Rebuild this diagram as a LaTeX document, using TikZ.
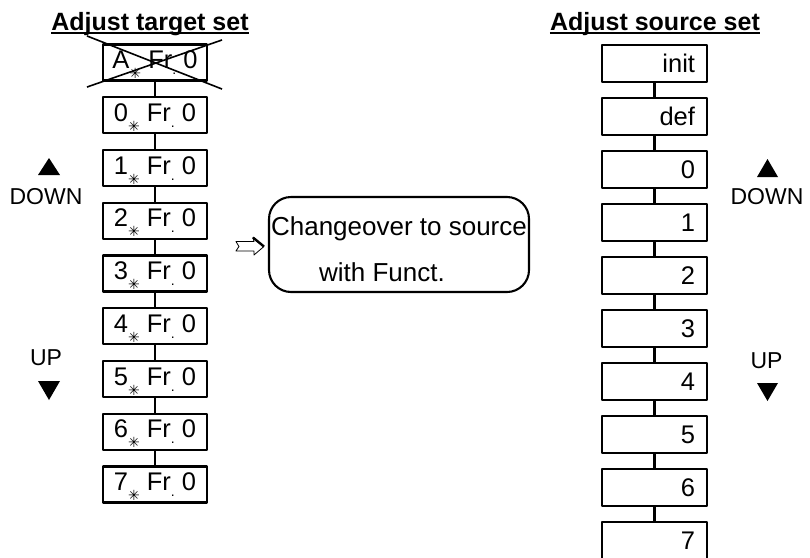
\documentclass[tikz,border=0pt]{standalone}
\usepackage{fontspec}
\setmainfont{Liberation Sans}
\newfontfamily\symfont{DejaVu Sans}
\newcommand{\lowstar}{\smash{\raisebox{-10pt}{\fontsize{14}{14}\selectfont\symfont ✳}}}
\newcommand{\lowdot}{\smash{\raisebox{-6pt}{\fontsize{14}{14}\selectfont .}}}
\tikzset{
	box/.style={draw, line width=2.1pt, minimum width=104pt, minimum height=36pt, inner sep=0pt,
		text height=18pt, text depth=6pt, font=\fontsize{25.5}{30}\selectfont},
	srcbox/.style={draw, line width=2.1pt, minimum width=105pt, minimum height=37pt, inner sep=0pt,
		text width=81pt, align=right, font=\fontsize{25.5}{30}\selectfont},
	link/.style={line width=2.1pt},
	title/.style={anchor=base, inner sep=0pt, font=\fontsize{25}{30}\selectfont\bfseries},
	updown/.style={font=\fontsize{23}{27}\selectfont, inner sep=0pt},
	bubble/.style={draw, rounded corners=22pt, line width=2.1pt, minimum width=260pt, minimum height=95pt,
		inner sep=0pt, align=center, font=\fontsize{26}{46}\selectfont}
}
\begin{document}
\begin{tikzpicture}[x=1pt, y=-1pt, line join=round]
	\useasboundingbox (0,0) rectangle (810,557);
	% titles
	\node[title] (ttlT) at (150,30) {Adjust target set};
	\node[title] (ttlS) at (655,30) {Adjust source set};
	\draw[line width=1.6pt] ([yshift=-3pt]ttlT.base west) -- ([yshift=-3pt]ttlT.base east);
	\draw[line width=1.6pt] ([yshift=-3pt]ttlS.base west) -- ([yshift=-3pt]ttlS.base east);
	% target column
	\foreach \lab [count=\i from 0] in {A,0,1,2,3,4,5,6,7} {
		\node[box] (t\i) at (155,{62.5+52.75*\i}) {\lab\lowstar\ Fr\lowdot\ 0};
	}
	\foreach \i in {0,...,7} {
		\pgfmathtruncatemacro\j{\i+1}
		\draw[link] (t\i) -- (t\j);
	}
	\draw[line width=1.6pt] ([shift={(-15,-7.5)}]t0.north west) -- ([shift={(14,7.5)}]t0.south east);
	\draw[line width=1.6pt] ([shift={(14,-3.5)}]t0.north east) -- ([shift={(-15,5.5)}]t0.south west);
	% source column
	\foreach \lab [count=\i from 0] in {init,def,0,1,2,3,4,5,6,7} {
		\node[srcbox] (s\i) at (654.5,{63.5+53*\i}) {\lab};
	}
	\foreach \i in {0,...,8} {
		\pgfmathtruncatemacro\j{\i+1}
		\draw[link] (s\i) -- (s\j);
	}
	% changeover
	\node[bubble] (chg) at (399,244.5) {\rule{0pt}{29pt}Changeover to source\\with Funct.\hspace*{34pt}};
	\begin{scope}[shift={(chg.west)}]
		\draw[line width=0.8pt, fill=white] (-32,-3) -- (-14,-3) -- (-15,-7) -- (-4,2) -- (-14,10.5) -- (-14,6.5) -- (-32,6.5) -- (-29,2) -- cycle;
		\draw[line width=2.4pt] (-15,-7) -- (-4,2);
	\end{scope}
	% up / down keys
	\node[updown] (dnL) at (46,196.5) {DOWN};
	\node[updown] (upL) at (46,357.5) {UP};
	\node[updown] (dnR) at (767,196.5) {DOWN};
	\node[updown] (upR) at (766.5,360.5) {UP};
	\fill (38,175) -- (60,175) -- (49,158) -- cycle;
	\fill (38,381) -- (60,381) -- (49,400) -- cycle;
	\fill (757,177) -- (778,177) -- (767.5,159) -- cycle;
	\fill (757,383) -- (778,383) -- (767.5,401) -- cycle;
\end{tikzpicture}
\end{document}
